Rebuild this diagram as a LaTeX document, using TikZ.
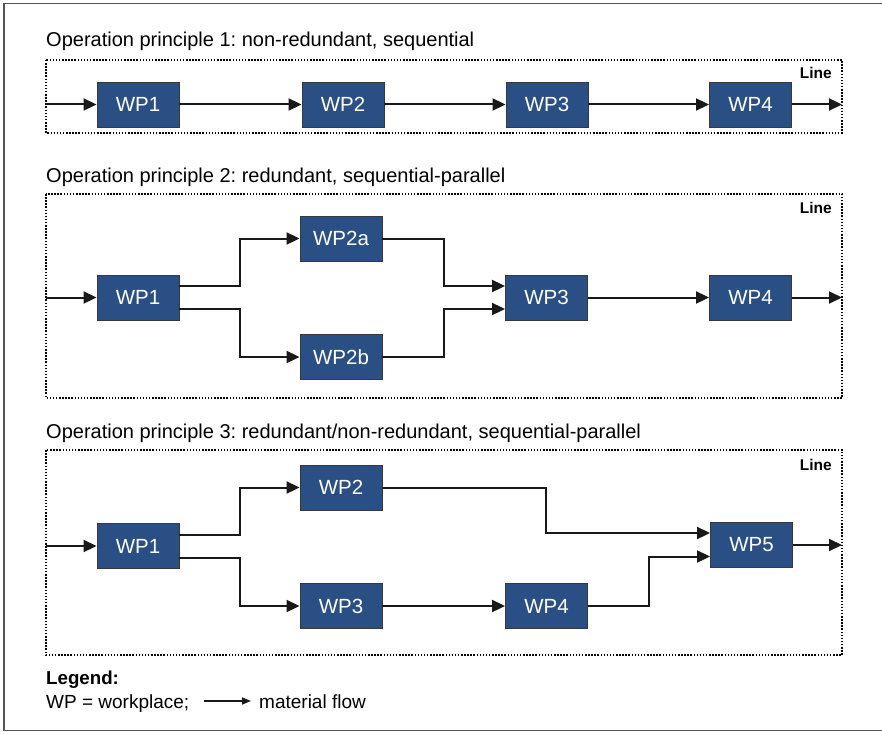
\documentclass[tikz,border=0pt]{standalone}
\usepackage{fontspec}
\setmainfont{Liberation Sans}
\usetikzlibrary{arrows.meta,calc}
\frenchspacing

\definecolor{wpblue}{RGB}{42,79,132}
\definecolor{wpedge}{RGB}{55,55,60}
\definecolor{framegray}{RGB}{85,85,85}

\tikzset{
  wp/.style={draw=wpedge, line width=0.9pt, fill=wpblue, text=white,
    minimum width=82pt, minimum height=45pt, inner sep=0pt,
    font=\fontsize{20.5}{24}\selectfont},
  flow/.style={draw=black!90, line width=2pt,
    -{Triangle[length=13pt,width=12pt]}},
  linebox/.style={draw=black, line width=1.6pt,
    dash pattern=on 1.5pt off 1.6pt},
  heading/.style={anchor=base west, inner sep=0pt,
    font=\fontsize{20}{24}\selectfont},
  linetag/.style={anchor=base east, inner sep=0pt,
    font=\fontsize{15.5}{18}\selectfont\bfseries},
  legendtext/.style={anchor=base west, inner sep=0pt,
    font=\fontsize{19}{22}\selectfont}
}

\begin{document}
\begin{tikzpicture}[x=1pt,y=-1pt]
\useasboundingbox (0,0) rectangle (882,733);

% outer frame (open on the right)
\draw[framegray, line width=1.6pt] (882,3.5) -- (4,3.5) -- (4,730.5) -- (882,730.5);

% ---------- principle 1 ----------
\node[heading] (t1) at (46,47) {Operation principle 1: non-redundant, sequential};
\draw[linebox] (46,60) rectangle (842,133);
\node[linetag] (l1) at (832,79) {Line};
\node[wp] (a1) at (138,104.5) {WP1};
\node[wp] (a2) at (343,104.5) {WP2};
\node[wp] (a3) at (547,104.5) {WP3};
\node[wp] (a4) at (750.5,104.5) {WP4};
\coordinate (ain) at (46,104.5);
\coordinate (aout) at (842,104.5);
\draw[flow] (ain) -- (a1);
\draw[flow] (a1) -- (a2);
\draw[flow] (a2) -- (a3);
\draw[flow] (a3) -- (a4);
\draw[flow] (a4) -- (aout);

% ---------- principle 2 ----------
\node[heading] (t2) at (46,182) {Operation principle 2: redundant, sequential-parallel};
\draw[linebox] (46,194) rectangle (842,398);
\node[linetag] (l2) at (832,213) {Line};
\node[wp] (b1) at (138,297.5) {WP1};
\node[wp] (b2a) at (341,238.5) {WP2a};
\node[wp] (b2b) at (341,357) {WP2b};
\node[wp] (b3) at (546.5,297.5) {WP3};
\node[wp] (b4) at (750.5,297.5) {WP4};
\coordinate (bin) at (46,297.5);
\coordinate (bout) at (842,297.5);
\coordinate (bsplit) at ($(b1.east)!.5!(b2a.west)$);
\coordinate (bmerge) at ($(b2a.east)!.5!(b3.west)$);
\coordinate (bo1) at ([yshift=11.5pt]b1.east);
\coordinate (bo2) at ([yshift=-11.5pt]b1.east);
\coordinate (bi1) at ([yshift=11.5pt]b3.west);
\coordinate (bi2) at ([yshift=-11.5pt]b3.west);
\draw[flow] (bin) -- (b1);
\draw[flow] (bo1) -| (bsplit |- b2a.west) -- (b2a.west);
\draw[flow] (bo2) -| (bsplit |- b2b.west) -- (b2b.west);
\draw[flow] (b2a.east) -| (bmerge |- bi1) -- (bi1);
\draw[flow] (b2b.east) -| (bmerge |- bi2) -- (bi2);
\draw[flow] (b3) -- (b4);
\draw[flow] (b4) -- (bout);

% ---------- principle 3 ----------
\node[heading] (t3) at (46,438) {Operation principle 3: redundant/non-redundant, sequential-parallel};
\draw[linebox] (46,450) rectangle (842,655);
\node[linetag] (l3) at (832,470) {Line};
\node[wp] (c1) at (138,546) {WP1};
\node[wp] (c2) at (341,487.5) {WP2};
\node[wp] (c3) at (341,606) {WP3};
\node[wp] (c4) at (546.5,606) {WP4};
\node[wp] (c5) at (751.5,545) {WP5};
\coordinate (cin) at (46,546);
\coordinate (cout) at (842,545);
\coordinate (csplit) at ($(c1.east)!.5!(c2.west)$);
\coordinate (cmergea) at ($(c2.east)!.5!(c5.west)$);
\coordinate (cmergeb) at ($(c4.east)!.5!(c5.west)$);
\coordinate (co1) at ([yshift=11.5pt]c1.east);
\coordinate (co2) at ([yshift=-11.5pt]c1.east);
\coordinate (ci1) at ([yshift=12pt]c5.west);
\coordinate (ci2) at ([yshift=-11.5pt]c5.west);
\draw[flow] (cin) -- (c1);
\draw[flow] (co1) -| (csplit |- c2.west) -- (c2.west);
\draw[flow] (co2) -| (csplit |- c3.west) -- (c3.west);
\draw[flow] (c3) -- (c4);
\draw[flow] (c2.east) -| (cmergea |- ci1) -- (ci1);
\draw[flow] (c4.east) -| (cmergeb |- ci2) -- (ci2);
\draw[flow] (c5) -- (cout);

% ---------- legend ----------
\node[legendtext, font=\fontsize{18.7}{22}\selectfont\bfseries] (lg) at (46,684) {Legend:};
\node[legendtext] (lwp) at (46,708) {WP = workplace;};
\coordinate (lfa) at (204,701);
\coordinate (lfb) at (251,701);
\draw[draw=black!90, line width=1.5pt, -{Triangle[length=9pt,width=7pt]}] (lfa) -- (lfb);
\node[legendtext] (lmf) at (259,708) {material flow};
\end{tikzpicture}
\end{document}
